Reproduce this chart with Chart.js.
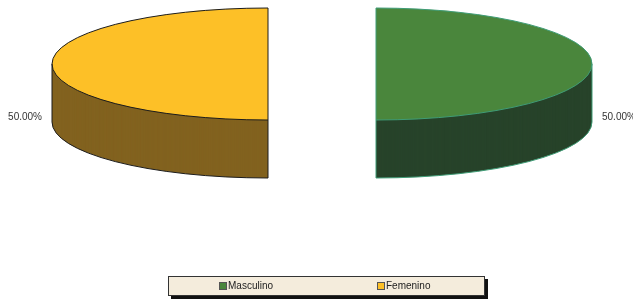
<!DOCTYPE html>
<html>
<head>
<meta charset="utf-8">
<script src="https://cdn.jsdelivr.net/npm/chart.js@4.4.1/dist/chart.umd.min.js"></script>
<style>
  html, body { margin: 0; padding: 0; background: #fff; }
  #wrap { position: relative; width: 633px; height: 299px; }
  #legend {
    position: absolute; left: 168px; top: 276px; width: 315px; height: 18px;
    background: #f4ecdc; border: 1px solid #333; box-shadow: 3px 3px 0 #111;
    font: 10px "Liberation Sans", Arial, sans-serif; color: #222;
  }
  #legend span.item { position: absolute; top: 3px; line-height: 12px; }
  #legend i { display: inline-block; width: 8px; height: 8px; margin-right: 1px; vertical-align: -1px; border: 1px solid #555; box-sizing: border-box; }
</style>
</head>
<body>
<div id="wrap">
  <canvas id="pie"></canvas>
  <div id="legend"></div>
</div>
<script>
var labels = ["Masculino", "Femenino"];
var values = [50, 50];
var topColors = ["#4a863c", "#fdc027"];
var sideColors = ["#27432a", "#82621f"];
var edgeColors = ["#3f9c76", "#1c1c1c"];
var legendX = [50, 208]; // item positions inside legend box

var DEPTH = 58;      // thickness of the pie in px
var EXPLODE = 54;    // how far each slice is pulled out
var TILT = 56 / 216; // vertical squash
var CY = 64;         // screen y of the top face centre

// pseudo 3D: squash the library's arcs and stack them to get the side
var pie3d = {
    id: "pie3d",
    beforeDatasetsDraw: function (chart) {
        var ctx = chart.ctx;
        var arcs = chart.getDatasetMeta(0).data;
        var total = values.reduce(function (a, b) { return a + b; }, 0);

        arcs.forEach(function (arc, i) {
            var mid = (arc.startAngle + arc.endAngle) / 2;
            var dx = Math.cos(mid) * EXPLODE;
            var dy = Math.sin(mid) * EXPLODE * TILT;
            var ox = arc.x + dx;
            var oy = CY + dy;
            var R = arc.outerRadius;
            var r = R * TILT;

            function squash(d) {
                ctx.translate(dx, oy + d);
                ctx.scale(1, TILT);
                ctx.translate(0, -arc.y);
            }

            // side: the same arc, darker, stacked downwards
            var side = Object.assign(Object.create(Object.getPrototypeOf(arc)), arc);
            side.options = Object.assign({}, arc.options, { backgroundColor: sideColors[i] });
            for (var d = DEPTH; d >= 1; d--) {
                ctx.save();
                squash(d);
                side.draw(ctx);
                ctx.restore();
            }
            // top face
            ctx.save();
            squash(0);
            arc.draw(ctx);
            ctx.restore();

            ctx.save();
            ctx.lineWidth = 1;
            ctx.strokeStyle = edgeColors[i];

            // outline of the visible side
            var s = arc.startAngle, e = arc.endAngle;
            while (s < 0) { s += Math.PI * 2; e += Math.PI * 2; }
            [[s, e], [s - Math.PI * 2, e - Math.PI * 2]].forEach(function (sg) {
                var a = Math.max(sg[0], 0), b = Math.min(sg[1], Math.PI);
                if (b <= a) return;
                ctx.beginPath();
                ctx.moveTo(ox + R * Math.cos(a), oy + r * Math.sin(a));
                ctx.lineTo(ox + R * Math.cos(a), oy + r * Math.sin(a) + DEPTH);
                ctx.ellipse(ox, oy + DEPTH, R, r, 0, a, b);
                ctx.lineTo(ox + R * Math.cos(b), oy + r * Math.sin(b));
                ctx.stroke();
            });

            // outline of the top face
            ctx.beginPath();
            ctx.moveTo(ox, oy);
            ctx.ellipse(ox, oy, R, r, 0, arc.startAngle, arc.endAngle);
            ctx.closePath();
            ctx.stroke();

            // value label
            var pct = (values[i] / total * 100).toFixed(2) + "%";
            ctx.fillStyle = "#333";
            ctx.font = "10px 'Liberation Sans', Arial, sans-serif";
            ctx.textBaseline = "middle";
            var cosm = Math.cos(mid);
            ctx.textAlign = cosm >= 0 ? "left" : "right";
            ctx.fillText(pct, ox + cosm * (R + 10), oy + 53);
            ctx.restore();
        });
        return false; // arcs already drawn above
    }
};

new Chart(document.getElementById("pie"), {
    type: "pie",
    data: {
        labels: labels,
        datasets: [{
            data: values,
            backgroundColor: topColors,
            borderWidth: 0,
            radius: 216
        }]
    },
    options: {
        responsive: true,
        maintainAspectRatio: false,
        animation: false,
        layout: { padding: { left: 11 } },
        plugins: {
            legend: { display: false },
            tooltip: { enabled: false }
        }
    },
    plugins: [pie3d]
});

// legend
var lg = document.getElementById("legend");
labels.forEach(function (l, i) {
    var sp = document.createElement("span");
    sp.className = "item";
    sp.style.left = legendX[i] + "px";
    sp.innerHTML = '<i style="background:' + topColors[i] + '"></i>' + l;
    lg.appendChild(sp);
});
</script>
</body>
</html>
